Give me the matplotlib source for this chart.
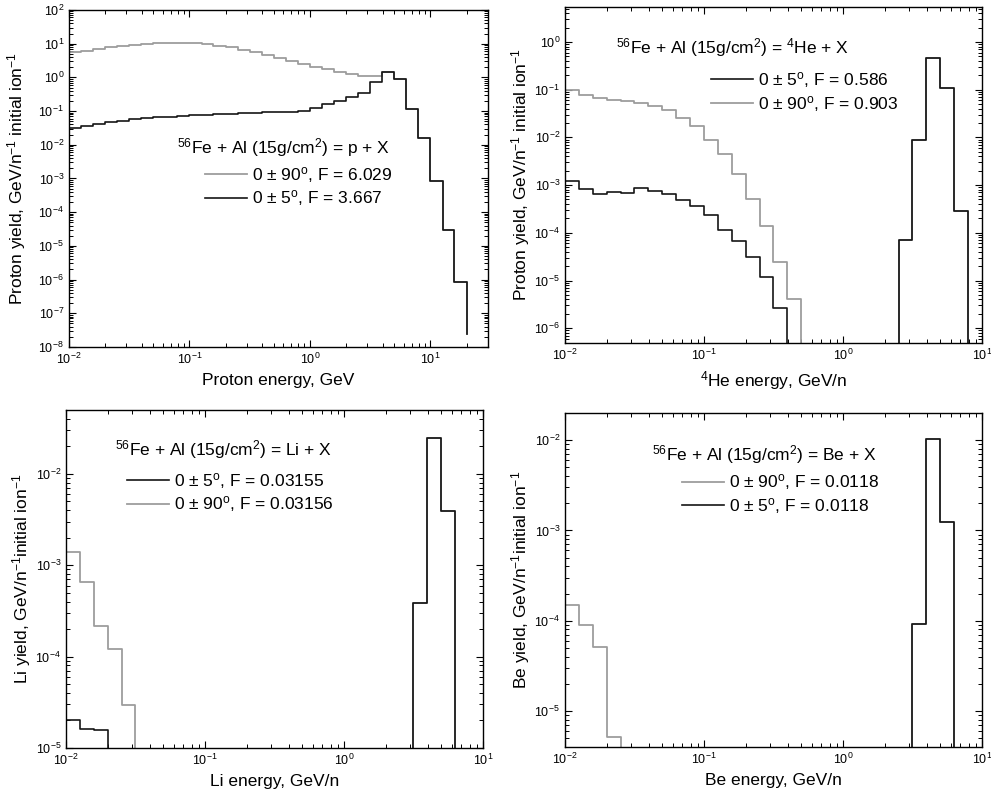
import numpy as np
import matplotlib
matplotlib.use("Agg")
import matplotlib.pyplot as plt
from matplotlib.ticker import LogLocator, NullFormatter

plt.rcParams['font.family'] = ['Liberation Sans', 'DejaVu Sans']
plt.rcParams['mathtext.fontset'] = 'custom'
plt.rcParams['mathtext.rm'] = 'Liberation Sans'
plt.rcParams['mathtext.it'] = 'Liberation Sans:italic'
plt.rcParams['mathtext.bf'] = 'Liberation Sans:bold'
plt.rcParams['mathtext.default'] = 'regular'
plt.rcParams['axes.unicode_minus'] = False

# left bin edges (GeV or GeV/n), 10 bins per decade
edges = [0.0100, 0.0126, 0.0158, 0.0200, 0.0251, 0.0316, 0.0398, 0.0501, 0.0631, 0.0794,
         0.100, 0.126, 0.158, 0.200, 0.251, 0.316, 0.398, 0.501, 0.631, 0.794,
         1.00, 1.26, 1.58, 2.00, 2.51, 3.16, 3.98, 5.01, 6.31, 7.94,
         10.0, 12.6, 15.8, 20.0]

# protons (last value = end of the last bin)
p_wide = [5.5, 6.2, 6.9, 7.8, 8.5, 9.3, 10.0, 10.5, 10.7, 10.7,
          10.2, 9.5, 8.7, 7.8, 6.6, 5.5, 4.6, 3.7, 3.0, 2.45,
          2.05, 1.74, 1.48, 1.29, 1.07, 1.12, 1.48, 0.89, 0.115, 0.0158,
          8.5e-4, 2.95e-5, 8.7e-7, 2.5e-8]
p_narrow = [0.0324, 0.0372, 0.0417, 0.0468, 0.0513, 0.0562, 0.0603, 0.0646, 0.0676, 0.0708,
            0.0741, 0.0776, 0.0813, 0.0832, 0.0871, 0.0891, 0.0912, 0.0933, 0.0955, 0.100,
            0.126, 0.158, 0.204, 0.257, 0.339, 0.72, 1.48, 0.89, 0.115, 0.0158,
            8.5e-4, 2.95e-5, 8.7e-7, 2.5e-8]

# 4He
he_wide = [0.098, 0.076, 0.068, 0.062, 0.058, 0.052, 0.045, 0.037, 0.026, 0.017,
           8.7e-3, 4.4e-3, 1.74e-3, 5.2e-4, 1.38e-4, 2.4e-5, 4.1e-6, 0, 0, 0,
           0, 0, 0, 0, 7.2e-5, 8.7e-3, 0.45, 0.11, 2.9e-4, 0]
he_narrow = [1.23e-3, 8.3e-4, 6.6e-4, 7.1e-4, 6.9e-4, 8.5e-4, 7.6e-4, 6.6e-4, 4.9e-4, 3.7e-4,
             2.35e-4, 1.17e-4, 6.8e-5, 3.1e-5, 1.17e-5, 2.6e-6, 0, 0, 0, 0,
             0, 0, 0, 0, 7.2e-5, 8.7e-3, 0.45, 0.11, 2.9e-4, 0]

# Li
li_wide = [1.41e-3, 6.5e-4, 2.14e-4, 1.2e-4, 2.95e-5, 0, 0, 0, 0, 0,
           0, 0, 0, 0, 0, 0, 0, 0, 0, 0,
           0, 0, 0, 0, 0, 3.9e-4, 0.0245, 3.9e-3, 0]
li_narrow = [2.04e-5, 1.62e-5, 1.58e-5, 0, 0, 0, 0, 0, 0, 0,
             0, 0, 0, 0, 0, 0, 0, 0, 0, 0,
             0, 0, 0, 0, 0, 3.9e-4, 0.0245, 3.9e-3, 0]

# Be
be_wide = [1.51e-4, 8.9e-5, 5.1e-5, 5.1e-6, 0, 0, 0, 0, 0, 0,
           0, 0, 0, 0, 0, 0, 0, 0, 0, 0,
           0, 0, 0, 0, 0, 9.1e-5, 0.0102, 1.23e-3, 0]
be_narrow = [0, 0, 0, 0, 0, 0, 0, 0, 0, 0,
             0, 0, 0, 0, 0, 0, 0, 0, 0, 0,
             0, 0, 0, 0, 0, 9.1e-5, 0.0102, 1.23e-3, 0]

GRAY = '#9d9d9d'
BLACK = '#151515'

fig = plt.figure(figsize=(9.91, 7.96), dpi=100)
ax1 = fig.add_axes([0.0696, 0.5641, 0.4228, 0.4234])
ax2 = fig.add_axes([0.5701, 0.5691, 0.4208, 0.4221])
ax3 = fig.add_axes([0.0666, 0.0603, 0.4208, 0.4246])
ax4 = fig.add_axes([0.5701, 0.0616, 0.4208, 0.4196])


def style(ax, xlim, ylim):
    ax.set_xscale('log')
    ax.set_yscale('log')
    ax.set_xlim(*xlim)
    ax.set_ylim(*ylim)
    for a in (ax.xaxis, ax.yaxis):
        a.set_major_locator(LogLocator(base=10, numticks=30))
        a.set_minor_locator(LogLocator(base=10, subs=np.arange(2, 10), numticks=300))
        a.set_minor_formatter(NullFormatter())
    ax.tick_params(which='both', direction='in', top=True, right=True, labelsize=9)
    ax.tick_params(which='major', length=5, width=0.8)
    ax.tick_params(which='minor', length=2.6, width=0.7)
    for s in ax.spines.values():
        s.set_linewidth(1.0)


def draw(ax, wide, narrow):
    n = len(wide)
    lw_ = ax.step(edges[:n], wide, where='post', color=GRAY, lw=1.3)[0]
    ln_ = ax.step(edges[:n], narrow, where='post', color=BLACK, lw=1.2)[0]
    return lw_, ln_


deg = r'$^{\rm o}$'
fs = 12.5
leg_kw = dict(loc='upper left', frameon=False, fontsize=fs, handlelength=2.4,
              handletextpad=0.3, borderpad=0, borderaxespad=0, labelspacing=0.2)

# panel 1: protons
g, b = draw(ax1, p_wide, p_narrow)
style(ax1, (0.01, 30), (1e-8, 1e2))
ax1.set_xlabel('Proton energy, GeV', fontsize=fs)
ax1.set_ylabel(r'Proton yield, GeV/n$^{-1}$ initial ion$^{-1}$', fontsize=fs)
ax1.yaxis.set_label_coords(-0.098, 0.5)
ax1.text(0.258, 0.593, r'$^{56}$Fe + Al (15g/cm$^{2}$) = p + X', transform=ax1.transAxes,
         fontsize=fs, va='center', ha='left')
ax1.legend([g, b], ['0 ± 90' + deg + ', F = 6.029', '0 ± 5' + deg + ', F = 3.667'],
           bbox_to_anchor=(0.325, 0.540), **leg_kw)

# panel 2: 4He
g, b = draw(ax2, he_wide, he_narrow)
style(ax2, (0.01, 10), (4.9e-7, 5.4))
ax2.set_xlabel(r'$^{4}$He energy, GeV/n', fontsize=fs)
ax2.set_ylabel(r'Proton yield, GeV/n$^{-1}$ initial ion$^{-1}$', fontsize=fs)
ax2.yaxis.set_label_coords(-0.079, 0.5)
ax2.text(0.122, 0.878, r'$^{56}$Fe + Al (15g/cm$^{2}$) = $^{4}$He + X', transform=ax2.transAxes,
         fontsize=fs, va='center', ha='left')
ax2.legend([b, g], ['0 ± 5' + deg + ', F = 0.586', '0 ± 90' + deg + ', F = 0.903'],
           bbox_to_anchor=(0.350, 0.812), **leg_kw)

# panel 3: Li
g, b = draw(ax3, li_wide, li_narrow)
style(ax3, (0.01, 10), (1e-5, 0.05))
ax3.set_xlabel('Li energy, GeV/n', fontsize=fs)
ax3.set_ylabel(r'Li yield, GeV/n$^{-1}$initial ion$^{-1}$', fontsize=fs)
ax3.yaxis.set_label_coords(-0.079, 0.5)
ax3.text(0.118, 0.882, r'$^{56}$Fe + Al (15g/cm$^{2}$) = Li + X', transform=ax3.transAxes,
         fontsize=fs, va='center', ha='left')
ax3.legend([b, g], ['0 ± 5' + deg + ', F = 0.03155', '0 ± 90' + deg + ', F = 0.03156'],
           bbox_to_anchor=(0.146, 0.820), **leg_kw)

# panel 4: Be
g, b = draw(ax4, be_wide, be_narrow)
style(ax4, (0.01, 10), (4e-6, 0.02))
ax4.set_xlabel('Be energy, GeV/n', fontsize=fs)
ax4.set_ylabel(r'Be yield, GeV/n$^{-1}$initial ion$^{-1}$', fontsize=fs)
ax4.yaxis.set_label_coords(-0.079, 0.5)
ax4.text(0.209, 0.874, r'$^{56}$Fe + Al (15g/cm$^{2}$) = Be + X', transform=ax4.transAxes,
         fontsize=fs, va='center', ha='left')
ax4.legend([g, b], ['0 ± 90' + deg + ', F = 0.0118', '0 ± 5' + deg + ', F = 0.0118'],
           bbox_to_anchor=(0.281, 0.822), **leg_kw)

fig.savefig('out.png', dpi=100)
